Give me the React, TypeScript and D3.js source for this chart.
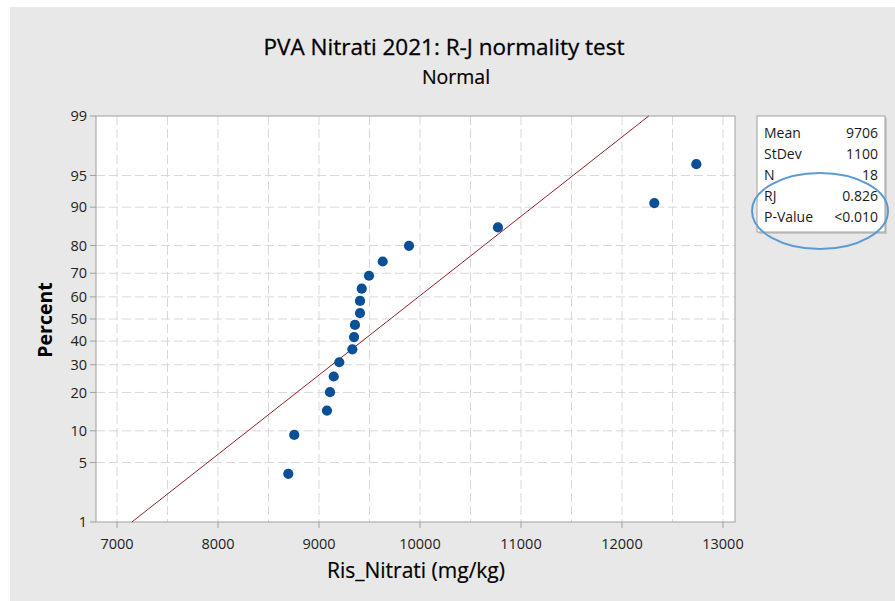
import React from 'react';
import * as d3 from 'd3';

// Data
const risNitrati = [8696, 8755, 9079, 9109, 9146, 9201, 9330, 9347, 9356, 9406, 9406, 9423, 9495, 9631, 9891, 10772, 12320, 12736];
const percentValues = [3.8, 9.2, 14.7, 20.1, 25.5, 31.0, 36.4, 41.8, 47.3, 52.7, 58.2, 63.6, 69.0, 74.5, 79.9, 85.3, 90.8, 96.2];
const yTickLabels = [1, 5, 10, 20, 30, 40, 50, 60, 70, 80, 90, 95, 99];
const xTickLabels = [7000, 8000, 9000, 10000, 11000, 12000, 13000];
const xGridValues = [7000, 7500, 8000, 8500, 9000, 9500, 10000, 10500, 11000, 11500, 12000, 12500, 13000];
const statLabels = ['Mean', 'StDev', 'N', 'RJ', 'P-Value'];
const statValues = ['9706', '1100', '18', '0.826', '<0.010'];
const fitMean = 9706;
const fitSd = 1100;

// inverse normal CDF (Acklam)
function invNorm(p: number): number {
  const a = [-3.969683028665376e1, 2.209460984245205e2, -2.759285104469687e2, 1.38357751867269e2, -3.066479806614716e1, 2.506628277459239];
  const b = [-5.447609879822406e1, 1.615858368580409e2, -1.556989798598866e2, 6.680131188771972e1, -1.328068155288572e1];
  const c = [-7.784894002430293e-3, -3.223964580411365e-1, -2.400758277161838, -2.549732539343734, 4.374664141464968, 2.938163982698783];
  const d = [7.784695709041462e-3, 3.224671290700398e-1, 2.445134137142996, 3.754408661907416];
  const pl = 0.02425;
  let q: number, r: number;
  if (p < pl) {
    q = Math.sqrt(-2 * Math.log(p));
    return (((((c[0] * q + c[1]) * q + c[2]) * q + c[3]) * q + c[4]) * q + c[5]) / ((((d[0] * q + d[1]) * q + d[2]) * q + d[3]) * q + 1);
  } else if (p <= 1 - pl) {
    q = p - 0.5;
    r = q * q;
    return (((((a[0] * r + a[1]) * r + a[2]) * r + a[3]) * r + a[4]) * r + a[5]) * q / (((((b[0] * r + b[1]) * r + b[2]) * r + b[3]) * r + b[4]) * r + 1);
  } else {
    q = Math.sqrt(-2 * Math.log(1 - p));
    return -(((((c[0] * q + c[1]) * q + c[2]) * q + c[3]) * q + c[4]) * q + c[5]) / ((((d[0] * q + d[1]) * q + d[2]) * q + d[3]) * q + 1);
  }
}

const FONT = "'Open Sans', 'Noto Sans', sans-serif";

export default function App() {
  const left = 96, right = 735, top = 116, bottom = 522;
  const x = d3.scaleLinear().domain([6792, 13119]).range([left, right]);
  const zMax = invNorm(0.99);
  const yz = d3.scaleLinear().domain([-zMax, zMax]).range([bottom, top]);
  const y = (pct: number) => yz(invNorm(pct / 100));

  const lineGen = d3.line<[number, number]>().x(d => x(d[0])).y(d => y(d[1]));
  const fitPts: [number, number][] = [1, 99].map(p => [fitMean + invNorm(p / 100) * fitSd, p]);

  const legX = 757, legY = 116, legW = 128, legH = 116;

  return (
    <svg width={895} height={601} style={{ position: 'absolute', left: 0, top: 0 }} fontFamily={FONT}>
      <rect x={0} y={0} width={895} height={601} fill="#ffffff" />
      <rect x={10} y={7} width={885} height={594} fill="#e8e8e8" />

      <text x={444} y={55} textAnchor="middle" fontSize={22.5} fill="#000" stroke="#000" strokeWidth={0.3}>PVA Nitrati 2021: R-J normality test</text>
      <text x={456} y={84} textAnchor="middle" fontSize={19.5} fill="#000" stroke="#000" strokeWidth={0.2}>Normal</text>

      {/* plot area */}
      <rect x={left} y={top} width={right - left} height={bottom - top} fill="#ffffff" />
      {xGridValues.map(v => (
        <line key={'xg' + v} x1={x(v)} x2={x(v)} y1={top} y2={bottom} stroke="#d8d8d8" strokeWidth={1} strokeDasharray="9,4" />
      ))}
      {yTickLabels.filter(v => v !== 1 && v !== 99).map(v => (
        <line key={'yg' + v} x1={left} x2={right} y1={y(v)} y2={y(v)} stroke="#d8d8d8" strokeWidth={1} strokeDasharray="9,4" />
      ))}
      <rect x={left} y={top} width={right - left} height={bottom - top} fill="none" stroke="#a0a0a0" strokeWidth={1} />

      {/* fitted line */}
      <path d={lineGen(fitPts) || ''} fill="none" stroke="#8b2323" strokeWidth={1} />

      {/* points */}
      {risNitrati.map((v, i) => (
        <circle key={'p' + i} cx={x(v)} cy={y(percentValues[i])} r={5.1} fill="#0b4f96" />
      ))}

      {/* y axis ticks */}
      {yTickLabels.map(v => (
        <g key={'yt' + v}>
          <line x1={left - 6} x2={left} y1={y(v)} y2={y(v)} stroke="#a0a0a0" />
          <text x={left - 9} y={y(v)} dy="0.35em" textAnchor="end" fontSize={14.5} fill="#222">{v}</text>
        </g>
      ))}
      {/* x axis ticks */}
      {xTickLabels.map(v => (
        <g key={'xt' + v}>
          <line x1={x(v)} x2={x(v)} y1={bottom} y2={bottom + 6} stroke="#a0a0a0" />
          <text x={x(v)} y={549} textAnchor="middle" fontSize={14.5} fill="#222">{v}</text>
        </g>
      ))}

      <text x={416} y={578} textAnchor="middle" fontSize={21} fill="#000" stroke="#000" strokeWidth={0.2}>Ris_Nitrati (mg/kg)</text>
      <text transform="translate(52,320) rotate(-90)" textAnchor="middle" fontSize={19.5} fontWeight="bold" fill="#000">Percent</text>

      {/* legend */}
      <rect x={legX + 2} y={legY + 2} width={legW} height={legH} fill="#c8c8c8" />
      <rect x={legX} y={legY} width={legW} height={legH} fill="#ffffff" stroke="#a0a0a0" />
      {statLabels.map((s, i) => (
        <g key={'st' + i}>
          <text x={legX + 7} y={legY + 22 + i * 21} fontSize={14} fill="#1a1a1a">{s}</text>
          <text x={legX + legW - 7} y={legY + 22 + i * 21} textAnchor="end" fontSize={14} fill="#1a1a1a">{statValues[i]}</text>
        </g>
      ))}
      <ellipse cx={820} cy={211} rx={68} ry={38} fill="none" stroke="#5b9bd5" strokeWidth={2} />
    </svg>
  );
}
